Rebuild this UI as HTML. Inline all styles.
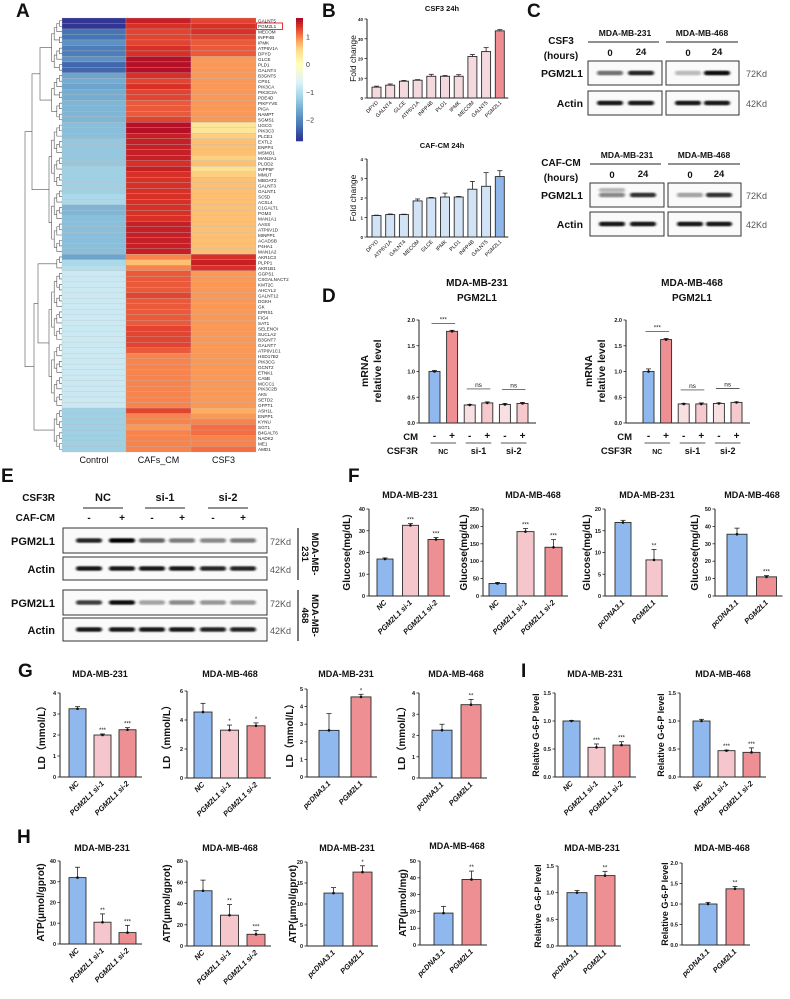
<!DOCTYPE html>
<html><head><meta charset="utf-8">
<style>
html,body{margin:0;padding:0;background:#fff;}
svg{display:block;font-family:"Liberation Sans",Arial,sans-serif;}
</style></head>
<body>
<svg id="fig" width="790" height="999" viewBox="0 0 790 999" xmlns="http://www.w3.org/2000/svg">
<defs>
<filter id="blur" x="-20%" y="-100%" width="140%" height="300%"><feGaussianBlur stdDeviation="1.3 0.9"/></filter>
</defs>
</svg>
<script>
// ---------- DATA ----------
const heatGenes = ["GALNT5","PGM2L1","MECOM","INPP4B","IPMK","ATP6V1A","DPYD","GLCE","PLD1","GALNT4","B3GNT5","CPS1","PIK3CA","PIK3C2A","PDE4D","PIKFYVE","PIGA","NAMPT","SGMS1","UGCG","PIK3C3","PLCE1","EXTL2","ENPP4","MSMO1","MAN2A1","PLOD2","INPP5F","MMUT","MBOAT2","GALNT3","GALNT1","SC5D","ACSL4","C1GALT1","PGM3","MAN1A1","AASS","ATP6V1D","MINPP1","ACADSB","P4HA1","MAN1A2","AKR1C3","PLPP1","AKR1B1","GGPS1","CSGALNACT2","KMT2C","AHCYL2","GALNT12","DGKH","GK","EPRS1","FIG4","SAT1","SELENOI","SUCLA2","B3GNT7","GALNT7","ATP6V1C1","HSD17B2","PIK3CG","GCNT2","ETNK1","CA5B","MCCC1","PIK3C2B","AK5","SETD2","GFPT1","ASH1L","ENPP1","KYNU","SGT1","B4GALT6","NADK2","ME1","AMD1"];
const heatControl = [-2.7,-2.7,-2.2,-2.2,-1.9,-2.1,-2.1,-1.9,-2.3,-2.3,-1.7,-1.6,-1.7,-1.6,-1.6,-1.5,-1.5,-1.5,-1.5,-1.4,-1.4,-1.4,-1.3,-1.3,-1.3,-1.3,-1.3,-1.2,-1.2,-1.2,-1.2,-1.2,-1.1,-1.1,-1.5,-1.5,-1.4,-1.4,-1.4,-1.4,-1.4,-1.4,-1.4,-1.7,-1.1,-1.0,-0.8,-0.8,-0.8,-0.8,-0.8,-0.8,-0.8,-0.8,-0.8,-0.8,-0.8,-0.8,-0.8,-0.8,-0.8,-0.8,-0.8,-0.8,-0.8,-0.8,-0.8,-0.8,-0.8,-0.8,-0.8,-1.2,-1.2,-1.2,-1.2,-1.2,-1.2,-1.2,-1.2];
const heatCAF = [1.5,1.4,1.3,1.3,1.3,1.4,1.4,1.6,1.6,1.6,1.4,1.3,1.4,1.3,1.3,1.2,1.2,1.2,1.3,1.6,1.6,1.5,1.5,1.5,1.5,1.5,1.4,1.5,1.4,1.4,1.4,1.4,1.4,1.4,1.4,1.4,1.4,1.5,1.5,1.5,1.5,1.5,1.5,1.0,0.7,1.0,1.2,1.2,1.2,1.2,1.3,1.2,1.2,1.2,1.2,1.2,1.3,1.3,1.3,1.3,1.2,1.0,1.0,1.0,1.0,1.0,1.0,1.0,1.0,1.0,1.0,1.3,1.0,1.0,0.9,1.0,1.0,1.0,1.0];
const heatCSF3 = [1.3,1.4,1.4,1.3,1.2,1.2,1.2,0.9,0.9,0.9,0.9,0.9,0.9,0.9,0.9,0.9,0.9,0.9,0.9,0.4,0.4,0.6,0.7,0.7,0.7,0.6,0.7,0.5,0.6,0.7,0.7,0.7,0.7,0.7,0.7,0.7,0.7,0.7,0.7,0.7,0.7,0.7,0.7,1.4,1.5,1.4,0.9,0.9,0.9,0.9,0.9,0.9,0.9,0.9,0.9,0.9,0.9,0.9,0.9,0.9,0.9,0.9,0.9,0.9,0.9,0.9,0.9,0.9,0.9,0.9,0.9,0.8,0.9,1.0,1.1,1.1,1.0,1.0,1.1];
const heatCols = ["Control","CAFs_CM","CSF3"];
const cbTicks = [1,0,-1,-2];

const bTopCats = ["DPYD","GALNT4","GLCE","ATP6V1A","INPP4B","PLD1","IPMK","MECOM","GALNT5","PGM2L1"];
const bTopVals = [5.5,6.5,8.5,9,11,11,11,21,23.5,34];
const bTopErrs = [0.5,0.6,0.4,0.3,1,0.4,0.8,1,2,0.6];
const bTopTicks = [0,10,20,30,40];
const bBotCats = ["DPYD","ATP6V1A","GALNT4","MECOM","GLCE","IPMK","PLD1","INPP4B","GALNT5","PGM2L1"];
const bBotVals = [1.1,1.15,1.15,1.85,2.0,2.05,2.05,2.45,2.6,3.1];
const bBotErrs = [0.02,0.03,0.02,0.1,0.03,0.2,0.03,0.4,0.7,0.3];
const bBotTicks = [0,1,2,3,4];

const dCats = ["-","+","-","+","-","+"];
const d231Vals = [1.0,1.78,0.35,0.39,0.36,0.38];
const d231Errs = [0.02,0.02,0.01,0.02,0.02,0.02];
const d468Vals = [1.0,1.62,0.37,0.37,0.38,0.40];
const d468Errs = [0.05,0.02,0.01,0.02,0.01,0.01];
const dTicks = [0,0.5,1.0,1.5,2.0];

const kdCats = ["NC","PGM2L1 si-1","PGM2L1 si-2"];
const ovCats = ["pcDNA3.1","PGM2L1"];
const f1Vals=[17,32.5,26], f1Errs=[0.5,0.8,0.9], f1Stars=["","***","***"], f1Ticks=[0,10,20,30,40];
const f2Vals=[36,185,140], f2Errs=[3,9,22], f2Stars=["","***","***"], f2Ticks=[0,50,100,150,200,250];
const f3Vals=[16.9,8.3], f3Errs=[0.5,2.4], f3Stars=["","**"], f3Ticks=[0,5,10,15,20];
const f4Vals=[35.5,11], f4Errs=[3.5,0.7], f4Stars=["","***"], f4Ticks=[0,10,20,30,40,50];
const g1Vals=[3.25,2.0,2.25], g1Errs=[0.1,0.05,0.1], g1Stars=["","***","***"], g1Ticks=[0,1,2,3,4];
const g2Vals=[4.55,3.3,3.6], g2Errs=[0.6,0.35,0.2], g2Stars=["","*","*"], g2Ticks=[0,2,4,6];
const g3Vals=[2.65,4.55], g3Errs=[0.95,0.15], g3Stars=["","*"], g3Ticks=[0,1,2,3,4,5];
const g4Vals=[2.25,3.45], g4Errs=[0.28,0.25], g4Stars=["","**"], g4Ticks=[0,1,2,3,4];
const h1Vals=[32,10.5,5.5], h1Errs=[5,4,3.5], h1Stars=["","**","***"], h1Ticks=[0,10,20,30,40];
const h2Vals=[52,29,11], h2Errs=[10,10,3.5], h2Stars=["","**","***"], h2Ticks=[0,20,40,60,80];
const h3Vals=[12.6,17.6], h3Errs=[1.3,1.5], h3Stars=["","*"], h3Ticks=[0,5,10,15,20];
const h4Vals=[19,39], h4Errs=[4,5], h4Stars=["","**"], h4Ticks=[0,10,20,30,40,50];
const i1Vals=[1.0,0.53,0.57], i1Errs=[0.01,0.06,0.06], i1Stars=["","***","***"], i1Ticks=[0,0.5,1.0,1.5];
const i2Vals=[1.0,0.47,0.44], i2Errs=[0.03,0.01,0.08], i2Stars=["","***","***"], i2Ticks=[0,0.5,1.0,1.5];
const i3Vals=[1.0,1.32], i3Errs=[0.04,0.08], i3Stars=["","**"], i3Ticks=[0,0.5,1.0,1.5];
const i4Vals=[1.0,1.37], i4Errs=[0.04,0.06], i4Stars=["","**"], i4Ticks=[0,0.5,1.0,1.5,2.0];

const cCsf3_231 = [0.55,0.85], cCsf3_468 = [0.25,0.95];
const cCaf_231 = [0.45,0.8], cCaf_468 = [0.35,0.8];
const cActin = [0.9,0.9];
const e231Pgm = [0.85,1.0,0.6,0.5,0.45,0.5], e468Pgm = [0.75,0.95,0.35,0.45,0.4,0.4];
const eActin = [0.9,0.9,0.9,0.9,0.85,0.85];

// ---------- HELPERS ----------
const NS="http://www.w3.org/2000/svg";
const svg=document.getElementById('fig');
function mk(tag,attrs,parent){const e=document.createElementNS(NS,tag);for(const k in attrs)e.setAttribute(k,attrs[k]);(parent||svg).appendChild(e);return e;}
function txt(x,y,s,size,extra,parent){const a=Object.assign({x:x,y:y,'font-size':size,fill:'#111'},extra||{});const t=mk('text',a,parent);t.textContent=s;return t;}
function fmt(v){return (Number.isInteger(v)?String(v):v.toFixed(1));}
const BLUE="#8fb9ee", PINK="#f5c6cb", RED="#ee8f93";

function barChart(c){
  const g=mk('g',{});
  
  
  const max=c.ticks[c.ticks.length-1];
  const ys=v=>c.y0-v/max*(c.y0-c.yTop);
  const xs=i=>c.left+i*c.step;
  const xEnd=xs(c.vals.length-1)+c.w+(c.tail||6);
  const ax=mk('line',{x1:c.axisX,y1:c.yTop,x2:c.axisX,y2:c.y0,stroke:'#222','stroke-width':1},g);
  
  
  const bx=mk('line',{x1:c.axisX,y1:c.y0,x2:xEnd,y2:c.y0,stroke:'#222','stroke-width':1},g);
  
  
  c.ticks.forEach(t=>{
    mk('line',{x1:c.axisX-2.5,y1:ys(t),x2:c.axisX,y2:ys(t),stroke:'#222','stroke-width':0.8},g);
    const tl=txt(c.axisX-4,ys(t)+2,c.tickFmt?c.tickFmt(t):fmt(t),c.tickSize||5.5,{'text-anchor':'end','font-weight':'bold'},g);
    
    
  });
  c.vals.forEach((v,i)=>{
    const x=xs(i), col=c.colors[i];
    const r=mk('rect',{x:x,y:ys(v),width:c.w,height:c.y0-ys(v),fill:col,stroke:'#2a2a2a','stroke-width':0.9},g);
    
    
    const cx=x+c.w/2, e=c.errs?c.errs[i]:0;
    if(e){
      mk('line',{x1:cx,y1:ys(v+e),x2:cx,y2:ys(v),stroke:'#222','stroke-width':0.8},g);
      mk('line',{x1:cx-2.5,y1:ys(v+e),x2:cx+2.5,y2:ys(v+e),stroke:'#222','stroke-width':0.8},g);
      if(c.dots){mk('circle',{cx:cx,cy:ys(v),r:1.3,fill:'#111'},g);}
    }
    if(c.stars&&c.stars[i]){
      const s=txt(cx,ys(v+e)-2,c.stars[i],6,{'text-anchor':'middle'},g);
      
      
    }
    if(c.catLabels!==false){
      const lx=cx+2, ly=c.y0+(c.labOff||7);
      const t=txt(lx,ly,c.cats[i],c.catSize||7.5,{'text-anchor':'end','font-weight':c.catWeight||'bold','font-style':c.catStyle||'italic',transform:`rotate(-45 ${lx} ${ly})`},g);
      
      
    }
  });
  if(c.title){
    const t=txt(c.titleX,c.titleY,c.title,c.titleSize||9.5,{'text-anchor':'middle','font-weight':'bold'},g);
    
    
  }
  if(c.ylabel){
    const my=(c.y0+c.yTop)/2;
    const t=txt(c.ylabelX,my,c.ylabel,c.ylabelSize||10,{'text-anchor':'middle','font-weight':c.ylabelWeight||'bold',transform:`rotate(-90 ${c.ylabelX} ${my})`},g);
    
    
  }
  return {g:g,ys:ys,xs:xs};
}

function letter(x,y,s){const t=txt(x,y,s,19,{'font-weight':'bold'});}
letter(16,17,"A");letter(322,17,"B");letter(527,17,"C");letter(322,302,"D");letter(1,482,"E");letter(348,482,"F");letter(18,677,"G");letter(17,843,"H");letter(521,677,"I");

// ---------- PANEL A: HEATMAP ----------
const stops=[[-2.7,[49,54,149]],[-2.2,[69,117,180]],[-1.6,[116,173,209]],[-1.1,[171,217,233]],[-0.6,[224,243,248]],[0,[255,255,191]],[0.5,[254,224,144]],[0.8,[253,174,97]],[1.1,[244,109,67]],[1.4,[215,48,39]],[1.7,[165,0,38]]];
function cmap(v){
  if(v<=stops[0][0])return `rgb(${stops[0][1]})`;
  for(let i=1;i<stops.length;i++){if(v<=stops[i][0]){const a=stops[i-1],b=stops[i],t=(v-a[0])/(b[0]-a[0]);const c=a[1].map((q,k)=>Math.round(q+(b[1][k]-q)*t));return `rgb(${c})`;}}
  return `rgb(${stops[stops.length-1][1]})`;
}
const hm=mk('g',{});


const hTop=18,hBot=452,hx=[62,126,191,256];
const rowH=(hBot-hTop)/heatGenes.length;
[heatControl,heatCAF,heatCSF3].forEach((col,ci)=>{
  col.forEach((v,ri)=>{
    const r=mk('rect',{x:hx[ci],y:hTop+ri*rowH,width:hx[ci+1]-hx[ci],height:rowH,fill:cmap(v),stroke:'#b9b9b9','stroke-width':0.25},hm);
    
    
  });
  const t=txt((hx[ci]+hx[ci+1])/2,463,heatCols[ci],9,{'text-anchor':'middle'},hm);
  
  
});
heatGenes.forEach((gname,ri)=>{
  const t=txt(258,hTop+ri*rowH+rowH*0.85,gname,4.6,{fill:'#222'},hm);
  
  
});
const hl=mk('rect',{x:256.5,y:hTop+rowH*1-0.5,width:26,height:rowH+1,fill:'none',stroke:'#e02020','stroke-width':0.9},hm);


// colorbar
const cb=mk('g',{});


const cbTop=18,cbBot=141,cbMax=1.69,cbMin=-2.76;
for(let i=0;i<60;i++){const v=cbMax-(cbMax-cbMin)*(i+0.5)/60;mk('rect',{x:296,y:cbTop+i*(cbBot-cbTop)/60,width:7,height:(cbBot-cbTop)/60+0.3,fill:cmap(v)},cb);}
cbTicks.forEach(t=>{const y=cbTop+(cbMax-t)/(cbMax-cbMin)*(cbBot-cbTop);txt(306,y+2.5,String(t).replace('-','−'),7,{fill:'#333'},cb);});
// dendrogram
const dg=mk('g',{stroke:'#555','stroke-width':0.6,fill:'none'});


function join(a,b,x){mk('polyline',{points:`${a.x},${a.y} ${x},${a.y} ${x},${b.y} ${b.x},${b.y}`},dg);return {x:x,y:(a.y+b.y)/2};}
function build(lo,hi){if(lo===hi)return {x:62,y:hTop+(lo+0.5)*rowH};const m=Math.floor((lo+hi)/2);const a=build(lo,m),b=build(m+1,hi);return join(a,b,Math.min(a.x,b.x)-2.6);}
const G0=build(0,9),G1=build(10,18),G2=build(19,42),G3=build(43,45),G4=build(46,70),G5=build(71,78);
const J1=join(G0,G1,40),J2=join(J1,G2,32),J3=join(G3,G4,38),J4=join(J3,G5,34);join(J2,J4,25);

// ---------- PANEL B ----------
barChart({name:'csf3-24h-chart',axisX:367,y0:98,yTop:19,ticks:bTopTicks,left:372,step:13.7,w:9,vals:bTopVals,errs:bTopErrs,cats:bTopCats,colors:bTopVals.map((v,i)=>i===9?'#ef8d93':'#f4dade'),title:'CSF3 24h',titleX:442,titleY:11,titleSize:7.5,ylabel:'Fold change',ylabelX:356,ylabelSize:8.5,ylabelWeight:'normal',catSize:5.3,catWeight:'normal',catStyle:'normal',labOff:5,tickSize:4.5,tail:4});
barChart({name:'caf-cm-24h-chart',axisX:367,y0:237,yTop:159,ticks:bBotTicks,left:372,step:13.7,w:9,vals:bBotVals,errs:bBotErrs,cats:bBotCats,colors:bBotVals.map((v,i)=>i===9?'#8fb6e8':'#d3e3f6'),title:'CAF-CM 24h',titleX:442,titleY:148,titleSize:7.5,ylabel:'Fold change',ylabelX:356,ylabelSize:8.5,ylabelWeight:'normal',catSize:5.3,catWeight:'normal',catStyle:'normal',labOff:5,tickSize:4.5,tail:4});

// ---------- WESTERN BLOT helper ----------
function blotBox(x,y,w,h,lanes,ints,name,dbl){
  const g=mk('g',{});
  
  
  mk('rect',{x:x,y:y,width:w,height:h,fill:'#fafafa',stroke:'#333','stroke-width':1},g);
  lanes.forEach((lx,i)=>{
    const bw=Math.min(26,(w/lanes.length)*0.8);
    const b=mk('rect',{x:lx-bw/2,y:y+h/2-2.3,width:bw,height:4.6,rx:2.3,fill:'#000','fill-opacity':ints[i],filter:'url(#blur)'},g);
    
    
    if(dbl&&i===0){mk('rect',{x:lx-bw/2,y:y+h/2-7,width:bw,height:4,rx:2,fill:'#000','fill-opacity':ints[i]*0.6,filter:'url(#blur)'},g);}
  });
  return g;
}
function lbl(x,y,s,size,anchor,name,weight,fill){const t=txt(x,y,s,size,{'text-anchor':anchor,'font-weight':weight||'bold',fill:fill||'#111'});return t;}

// ---------- PANEL C ----------
[[0,cCsf3_231,cCsf3_468,'CSF3'],[1,cCaf_231,cCaf_468,'CAF-CM']].forEach(([k,p231,p468,treat])=>{
  const o=k?122:0, xo=k?2:0;
  lbl(625+xo,36+o,'MDA-MB-231',8.5,'middle','cell-line-header');
  lbl(702+xo,36+o,'MDA-MB-468',8.5,'middle','cell-line-header');
  mk('line',{x1:588+xo,y1:42+o,x2:659+xo,y2:42+o,stroke:'#222','stroke-width':1});
  mk('line',{x1:666+xo,y1:42+o,x2:738+xo,y2:42+o,stroke:'#222','stroke-width':1});
  lbl(561,44+o,treat,10,'middle','treatment-label');
  lbl(561,59+o,'(hours)',10,'middle','hours-label');
  lbl(610+xo,56+o,'0',9.5,'middle','time-label');lbl(641+xo,55+o,'24',9.5,'middle','time-label');
  lbl(688+xo,56+o,'0',9.5,'middle','time-label');lbl(717+xo,55+o,'24',9.5,'middle','time-label');
  const lanesA=[610+xo,641+xo], lanesB=[688+xo,717+xo];
  const py=k?183:61, ay=k?212:91;
  blotBox(588+xo,py,74,24,lanesA,p231,'blot-pgm2l1-231',k===1);
  blotBox(666+xo,py,73,24,lanesB,p468,'blot-pgm2l1-468');
  blotBox(588+xo,ay,74,24,lanesA,cActin,'blot-actin-231');
  blotBox(666+xo,ay,73,24,lanesB,cActin,'blot-actin-468');
  lbl(583,py+16,'PGM2L1',10.5,'end','protein-label');
  lbl(583,ay+16,'Actin',10.5,'end','protein-label');
  lbl(746,py+16,'72Kd',9,'start','mw-label','normal','#555');
  lbl(746,ay+16,'42Kd',9,'start','mw-label','normal','#555');
});

// ---------- PANEL D ----------
function dPanel(vals,errs,axisX,left,cx,cmR,name,ylx){
  const ch=barChart({name:name,axisX:axisX,y0:423,yTop:320,ticks:dTicks,left:left,step:17.6,w:11,vals:vals,errs:errs,cats:dCats,colors:[BLUE,RED,'#f8dfe2','#f5c9cd','#f8dfe2','#f5c9cd'],catLabels:false,dots:true,tickFmt:v=>v.toFixed(1),tail:8});
  lbl(cx,286,vals===d231Vals?'MDA-MB-231':'MDA-MB-468',10,'middle','chart-title');
  lbl(cx,301,'PGM2L1',10,'middle','chart-title');
  const my=371;
  const t1=txt(ylx,my,'mRNA',10.5,{'text-anchor':'middle','font-weight':'bold',transform:`rotate(-90 ${ylx} ${my})`});
  const t2=txt(ylx+13,my,'relative  level',10.5,{'text-anchor':'middle','font-weight':'bold',transform:`rotate(-90 ${ylx+13} ${my})`});
  const centers=vals.map((v,i)=>ch.xs(i)+5.5);
  mk('line',{x1:centers[0]-3,y1:ch.ys(vals[1])-8,x2:centers[1]+3,y2:ch.ys(vals[1])-8,stroke:'#222','stroke-width':0.7});
  lbl((centers[0]+centers[1])/2,ch.ys(vals[1])-10,'***',6,'middle','significance-mark','normal');
  [2,4].forEach(i=>{const yy=ch.ys(Math.max(vals[i],vals[i+1]))-14;mk('line',{x1:centers[i]-3,y1:yy,x2:centers[i+1]+3,y2:yy,stroke:'#222','stroke-width':0.7});lbl((centers[i]+centers[i+1])/2,yy-2,'ns',6.5,'middle','ns-mark','normal');});
  dCats.forEach((s,i)=>lbl(centers[i],439,s,10,'middle','cm-sign'));
  ['NC','si-1','si-2'].forEach((s,p)=>{
    mk('line',{x1:centers[2*p]-4,y1:443,x2:centers[2*p+1]+4,y2:443,stroke:'#222','stroke-width':0.7});
    lbl((centers[2*p]+centers[2*p+1])/2,454,s,p?9:7,'middle','group-label');
  });
  lbl(cmR,440,'CM',9.5,'end','cm-row-label');
  lbl(cmR,454,'CSF3R',9.5,'end','csf3r-row-label');
}
dPanel(d231Vals,d231Errs,419,429,477,418,'d-mda-mb-231-chart',368);
dPanel(d468Vals,d468Errs,626,643,692,632,'d-mda-mb-468-chart',592);

// ---------- PANEL E ----------
const eLanes=[89,122,152,182,213,243];
lbl(55,501,'CSF3R',10,'end','csf3r-label');
lbl(55,521,'CAF-CM',10,'end','caf-cm-label');
[['NC',103],['si-1',165],['si-2',228]].forEach(([s,x])=>{lbl(x,501,s,11,'middle','group-label');mk('line',{x1:x-20,y1:508,x2:x+20,y2:508,stroke:'#222','stroke-width':0.9});});
eLanes.forEach((x,i)=>lbl(x,521,i%2?'+':'-',10,'middle','caf-cm-sign'));
[[528,557,e231Pgm,'MDA-MB-\n231'],[590,618,e468Pgm,'MDA-MB-\n468']].forEach(([py,ay,ints,cell],k)=>{
  blotBox(63,py,204,25,eLanes,ints,'e-blot-pgm2l1');
  blotBox(63,ay,204,23,eLanes,eActin,'e-blot-actin');
  lbl(55,py+17,'PGM2L1',11,'end','protein-label');
  lbl(55,ay+16,'Actin',11,'end','protein-label');
  lbl(270,py+17,'72Kd',9,'start','mw-label','normal','#555');
  lbl(270,ay+16,'42Kd',9,'start','mw-label','normal','#555');
  mk('line',{x1:298,y1:py,x2:298,y2:ay+23,stroke:'#222','stroke-width':1.2});
  const my=(py+ay+23)/2;
  const parts=cell.split('\n');
  const t1=txt(312,my,parts[0],9.5,{'text-anchor':'middle','font-weight':'bold',transform:`rotate(90 312 ${my})`});
  const t2=txt(302,my,parts[1],9.5,{'text-anchor':'middle','font-weight':'bold',transform:`rotate(90 302 ${my})`});
});

// ---------- PANELS F, G, H, I ----------
const common={dots:true,titleSize:9};
function C(o){return barChart(Object.assign({},common,o));}
C({name:'f-glucose-231-kd',axisX:369,y0:596,yTop:509,ticks:f1Ticks,left:377,step:25.5,w:16,vals:f1Vals,errs:f1Errs,stars:f1Stars,cats:kdCats,colors:[BLUE,PINK,RED],title:'MDA-MB-231',titleX:410,titleY:498,ylabel:'Glucose(mg/dL)',ylabelX:350});
C({name:'f-glucose-468-kd',axisX:483,y0:596,yTop:509,ticks:f2Ticks,left:489,step:28,w:17,vals:f2Vals,errs:f2Errs,stars:f2Stars,cats:kdCats,colors:[BLUE,PINK,RED],title:'MDA-MB-468',titleX:533,titleY:498,ylabel:'Glucose(mg/dL)',ylabelX:467});
C({name:'f-glucose-231-ov',axisX:605,y0:596,yTop:509,ticks:f3Ticks,left:615,step:31,w:16,vals:f3Vals,errs:f3Errs,stars:f3Stars,cats:ovCats,colors:[BLUE,PINK],title:'MDA-MB-231',titleX:647,titleY:498,ylabel:'Glucose(mg/dL)',ylabelX:590});
C({name:'f-glucose-468-ov',axisX:715,y0:596,yTop:509,ticks:f4Ticks,left:727,step:29.5,w:20,vals:f4Vals,errs:f4Errs,stars:f4Stars,cats:ovCats,colors:[BLUE,RED],title:'MDA-MB-468',titleX:752,titleY:498,ylabel:'Glucose(mg/dL)',ylabelX:698});

C({name:'g-ld-231-kd',axisX:60,y0:777,yTop:693,ticks:g1Ticks,left:69,step:25,w:17,vals:g1Vals,errs:g1Errs,stars:g1Stars,cats:kdCats,colors:[BLUE,PINK,RED],title:'MDA-MB-231',titleX:100,titleY:677,ylabel:'LD（mmol/L）',ylabelX:45});
C({name:'g-ld-468-kd',axisX:187,y0:778,yTop:691,ticks:g2Ticks,left:194,step:26.5,w:18,vals:g2Vals,errs:g2Errs,stars:g2Stars,cats:kdCats,colors:[BLUE,PINK,RED],title:'MDA-MB-468',titleX:230,titleY:677,ylabel:'LD（mmol/L）',ylabelX:170});
C({name:'g-ld-231-ov',axisX:307,y0:777,yTop:689,ticks:g3Ticks,left:319,step:32,w:20,vals:g3Vals,errs:g3Errs,stars:g3Stars,cats:ovCats,colors:[BLUE,RED],title:'MDA-MB-231',titleX:346,titleY:677,ylabel:'LD（mmol/L）',ylabelX:293});
C({name:'g-ld-468-ov',axisX:419,y0:778,yTop:693,ticks:g4Ticks,left:432,step:29,w:20,vals:g4Vals,errs:g4Errs,stars:g4Stars,cats:ovCats,colors:[BLUE,RED],title:'MDA-MB-468',titleX:456,titleY:677,ylabel:'LD（mmol/L）',ylabelX:405});

C({name:'h-atp-231-kd',axisX:60,y0:944,yTop:861,ticks:h1Ticks,left:69,step:25,w:17,vals:h1Vals,errs:h1Errs,stars:h1Stars,cats:kdCats,colors:[BLUE,PINK,RED],title:'MDA-MB-231',titleX:102,titleY:851,ylabel:'ATP(μmol/gprot)',ylabelX:44});
C({name:'h-atp-468-kd',axisX:187,y0:946,yTop:861,ticks:h2Ticks,left:194,step:26.5,w:18,vals:h2Vals,errs:h2Errs,stars:h2Stars,cats:kdCats,colors:[BLUE,PINK,RED],title:'MDA-MB-468',titleX:230,titleY:851,ylabel:'ATP(μmol/gprot)',ylabelX:170});
C({name:'h-atp-231-ov',axisX:307,y0:946,yTop:862,ticks:h3Ticks,left:324,step:29,w:19,vals:h3Vals,errs:h3Errs,stars:h3Stars,cats:ovCats,colors:[BLUE,RED],title:'MDA-MB-231',titleX:347,titleY:851,ylabel:'ATP(μmol/gprot)',ylabelX:296});
C({name:'h-atp-468-ov',axisX:420,y0:945,yTop:861,ticks:h4Ticks,left:434,step:28,w:19,vals:h4Vals,errs:h4Errs,stars:h4Stars,cats:ovCats,colors:[BLUE,RED],title:'MDA-MB-468',titleX:457,titleY:849,ylabel:'ATP(μmol/mg)',ylabelX:406});

const f1=v=>v.toFixed(1);
C({name:'i-g6p-231-kd',axisX:555,y0:777,yTop:693,ticks:i1Ticks,left:563,step:25,w:17,vals:i1Vals,errs:i1Errs,stars:i1Stars,cats:kdCats,colors:[BLUE,PINK,RED],title:'MDA-MB-231',titleX:595,titleY:677,ylabel:'Relative G-6-P level',ylabelX:539,ylabelSize:9,tickFmt:f1});
C({name:'i-g6p-468-kd',axisX:680,y0:777,yTop:693,ticks:i2Ticks,left:693,step:25,w:17,vals:i2Vals,errs:i2Errs,stars:i2Stars,cats:kdCats,colors:[BLUE,PINK,RED],title:'MDA-MB-468',titleX:723,titleY:677,ylabel:'Relative G-6-P level',ylabelX:664,ylabelSize:9,tickFmt:f1});
C({name:'i-g6p-231-ov',axisX:558,y0:946,yTop:866,ticks:i3Ticks,left:567,step:28,w:20,vals:i3Vals,errs:i3Errs,stars:i3Stars,cats:ovCats,colors:[BLUE,RED],title:'MDA-MB-231',titleX:592,titleY:851,ylabel:'Relative G-6-P level',ylabelX:541,ylabelSize:9,tickFmt:f1});
C({name:'i-g6p-468-ov',axisX:682,y0:945,yTop:863,ticks:i4Ticks,left:699,step:27,w:18,vals:i4Vals,errs:i4Errs,stars:i4Stars,cats:ovCats,colors:[BLUE,RED],title:'MDA-MB-468',titleX:722,titleY:851,ylabel:'Relative G-6-P level',ylabelX:668,ylabelSize:9,tickFmt:f1});
</script>
</body></html>
